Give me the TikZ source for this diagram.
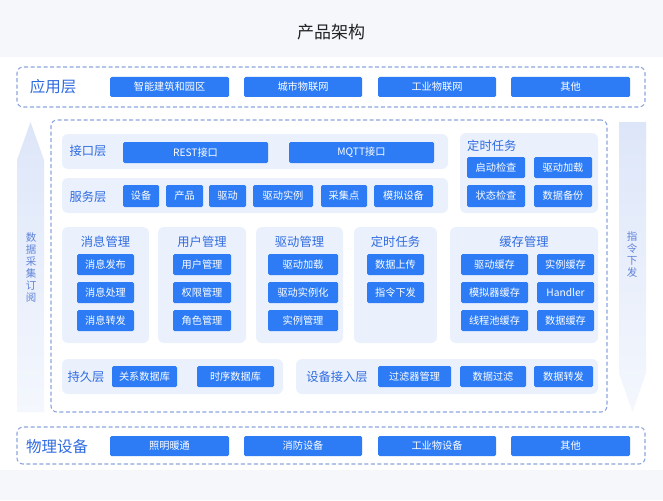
\documentclass[tikz,border=0pt]{standalone}
\usepackage{fontspec}
\setmainfont{Noto Sans CJK SC}
\definecolor{btnblue}{HTML}{2D7CF6}
\definecolor{rowfill}{HTML}{EAF1FD}
\definecolor{lblue}{HTML}{2F6BE0}
\definecolor{dashc}{HTML}{8EA6E0}
\definecolor{bgc}{HTML}{F5F7FB}
\definecolor{arrmid}{HTML}{C3D1F5}
\definecolor{arrtop}{HTML}{DDE6F9}
\definecolor{arrbot}{HTML}{F4F7FD}
\definecolor{arrtext}{HTML}{5F83D9}
\definecolor{titlec}{HTML}{222222}
\tikzset{
  btn/.style={fill=btnblue, rounded corners=1.5pt, text=white, font=\fontsize{10.2}{11}\selectfont, inner sep=0pt},
  rowbox/.style={fill=rowfill, rounded corners=6pt, inner sep=0pt},
  dbox/.style={draw=dashc, dash pattern=on 4pt off 2.5pt, line width=1.1pt, rounded corners=6pt, inner sep=0pt},
  lbl/.style={text=lblue, font=\fontsize{12.3}{12.3}\selectfont, inner sep=0pt},
  biglbl/.style={text=lblue, font=\fontsize{15.5}{16}\selectfont, inner sep=0pt},
  vtext/.style={text=arrtext, font=\fontsize{10.5}{12}\selectfont, align=center, inner sep=0pt},
}
\newcommand{\rb}[7]{\node[#1, minimum width={(#4)-(#3)}, minimum height={(#6)-(#5)}] (#2) at ({((#3)+(#4))/2},{((#5)+(#6))/2}) {#7};}
\begin{document}
\begin{tikzpicture}[x=1pt,y=-1pt]
\useasboundingbox (0,0) rectangle (663,500);
\fill[bgc] (0,0) rectangle (663,500);
\fill[white] (0,57) rectangle (663,470);
% title
\node[font=\fontsize{17}{17}\selectfont, text=titlec, inner sep=0pt] (title) at (331,32) {产品架构};
% side arrows
\shade[top color=arrtop, middle color=arrmid, bottom color=arrbot] (17,160) -- (30.5,122) -- (44,160) -- (44,412) -- (17,412) -- cycle;
\shade[top color=arrtop, middle color=arrmid, bottom color=arrbot] (619,122) -- (646,122) -- (646,373) -- (632.5,412) -- (619,373) -- cycle;
\node[vtext] (up) at (31,268) {数\\据\\采\\集\\订\\阅};
\node[vtext] (down) at (632,255) {指\\令\\下\\发};
% application layer
\rb{dbox}{app}{17}{645}{67}{107}{}
\node[biglbl] (appl) at (53,87) {应用层};
\rb{btn}{a1}{110}{229}{77}{97}{智能建筑和园区}
\rb{btn}{a2}{244}{362}{77}{97}{城市物联网}
\rb{btn}{a3}{378}{496}{77}{97}{工业物联网}
\rb{btn}{a4}{511}{630}{77}{97}{其他}
% main box
\rb{dbox}{main}{51}{607}{120}{412}{}
% interface row
\rb{rowbox}{ifrow}{62}{448}{134}{169}{}
\node[lbl] (ifl) at (88,151) {接口层};
\rb{btn}{rest}{123}{268}{142}{163}{REST接口}
\rb{btn}{mqtt}{289}{434}{142}{163}{MQTT接口}
% service row
\rb{rowbox}{svrow}{62}{448}{178}{213}{}
\node[lbl] (svl) at (88,197) {服务层};
\rb{btn}{s1}{123}{159}{185}{207}{设备}
\rb{btn}{s2}{166}{203}{185}{207}{产品}
\rb{btn}{s3}{209}{246}{185}{207}{驱动}
\rb{btn}{s4}{253}{313}{185}{207}{驱动实例}
\rb{btn}{s5}{321}{367}{185}{207}{采集点}
\rb{btn}{s6}{374}{433}{185}{207}{模拟设备}
% timed task (top right)
\rb{rowbox}{tmrow}{460}{598}{133}{213}{}
\node[lbl, anchor=west] (tml) at (467,146) {定时任务};
\rb{btn}{t1}{467}{525}{157}{178}{启动检查}
\rb{btn}{t2}{534}{592}{157}{178}{驱动加载}
\rb{btn}{t3}{467}{525}{185}{207}{状态检查}
\rb{btn}{t4}{534}{592}{185}{207}{数据备份}
% middle modules
\rb{rowbox}{msg}{62}{149}{227}{343}{}
\node[lbl] (msgl) at (105.5,242) {消息管理};
\rb{btn}{m1}{77}{134}{254}{275}{消息发布}
\rb{btn}{m2}{77}{134}{282}{303}{消息处理}
\rb{btn}{m3}{77}{134}{310}{331}{消息转发}
\rb{rowbox}{usr}{158}{246}{227}{343}{}
\node[lbl] (usrl) at (202,242) {用户管理};
\rb{btn}{u1}{173}{231}{254}{275}{用户管理}
\rb{btn}{u2}{173}{231}{282}{303}{权限管理}
\rb{btn}{u3}{173}{231}{310}{331}{角色管理}
\rb{rowbox}{drv}{256}{343}{227}{343}{}
\node[lbl] (drvl) at (299.5,242) {驱动管理};
\rb{btn}{d1}{268}{338}{254}{275}{驱动加载}
\rb{btn}{d2}{268}{338}{282}{303}{驱动实例化}
\rb{btn}{d3}{268}{338}{310}{331}{实例管理}
\rb{rowbox}{tsk}{354}{437}{227}{343}{}
\node[lbl] (tskl) at (395.5,242) {定时任务};
\rb{btn}{k1}{367}{424}{254}{275}{数据上传}
\rb{btn}{k2}{367}{424}{282}{303}{指令下发}
\rb{rowbox}{cache}{450}{598}{227}{343}{}
\node[lbl] (cachel) at (524,242) {缓存管理};
\rb{btn}{c1}{461}{528}{254}{275}{驱动缓存}
\rb{btn}{c2}{537}{594}{254}{275}{实例缓存}
\rb{btn}{c3}{461}{528}{282}{303}{模拟器缓存}
\rb{btn}{c4}{537}{594}{282}{303}{Handler}
\rb{btn}{c5}{461}{528}{310}{331}{线程池缓存}
\rb{btn}{c6}{537}{594}{310}{331}{数据缓存}
% persistence row
\rb{rowbox}{perrow}{62}{283}{359}{394}{}
\node[lbl] (perl) at (86,377) {持久层};
\rb{btn}{p1}{112}{177}{366}{387}{关系数据库}
\rb{btn}{p2}{197}{274}{366}{387}{时序数据库}
% device access row
\rb{rowbox}{devrow}{296}{598}{359}{394}{}
\node[lbl] (devl) at (337,377) {设备接入层};
\rb{btn}{e1}{378}{451}{366}{387}{过滤器管理}
\rb{btn}{e2}{460}{526}{366}{387}{数据过滤}
\rb{btn}{e3}{534}{593}{366}{387}{数据转发}
% physical layer
\rb{dbox}{phys}{17}{645}{427}{464}{}
\node[biglbl] (physl) at (57,447) {物理设备};
\rb{btn}{f1}{110}{229}{436}{456}{照明暖通}
\rb{btn}{f2}{244}{362}{436}{456}{消防设备}
\rb{btn}{f3}{378}{496}{436}{456}{工业物设备}
\rb{btn}{f4}{511}{630}{436}{456}{其他}
\end{tikzpicture}
\end{document}
